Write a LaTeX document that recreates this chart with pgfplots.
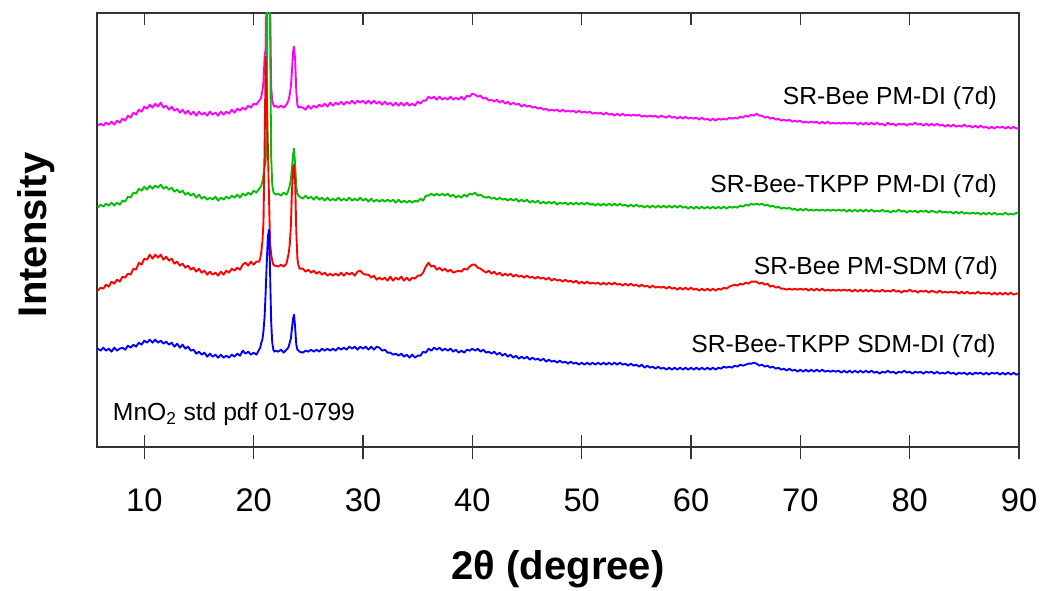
\documentclass[border=0pt]{standalone}
\usepackage{fontspec}
\setmainfont{Liberation Sans}
\usepackage{pgfplots}
\usepackage{pgfplotstable}
\pgfplotsset{compat=1.18}

\definecolor{xmag}{RGB}{255,0,255}
\definecolor{xgrn}{RGB}{0,192,0}
\definecolor{xred}{RGB}{255,0,0}
\definecolor{xblu}{RGB}{0,0,255}
\definecolor{axisgray}{RGB}{51,51,51}

% 2theta and the four offset patterns (arbitrary intensity units)
% M: SR-Bee PM-DI, G: SR-Bee-TKPP PM-DI, R: SR-Bee PM-SDM, B: SR-Bee-TKPP SDM-DI
\pgfplotstableread{
tt M G R B
5.75 321 239 156 98
6.00 323 242 159 96
6.25 321 240 158 99
6.50 324 243 162 96
6.75 322 241 160 98
7.00 325 244 165 95
7.25 322 241 163 99
7.50 326 244 167 96
7.75 324 242 165 98
8.00 328 246 170 99
8.25 326 245 169 97
8.50 331 250 173 101
8.75 329 249 172 99
9.00 334 254 178 102
9.25 332 253 177 100
9.50 337 258 184 104
9.75 335 256 182 102
10.00 340 260 188 106
10.25 338 257 187 104
10.50 342 261 192 107
10.75 339 258 188 104
11.00 343 261 192 107
11.25 340 259 189 104
11.50 344 262 192 106
11.75 339 258 187 103
12.00 341 260 190 105
12.25 337 257 186 102
12.50 340 259 188 104
12.75 336 255 183 100
13.00 338 257 185 103
13.25 334 254 181 99
13.50 337 256 183 102
13.75 333 252 179 98
14.00 336 254 181 100
14.25 332 251 177 96
14.50 335 253 179 97
14.75 331 249 175 93
15.00 335 252 178 95
15.25 332 248 174 92
15.50 334 250 176 94
15.75 331 247 172 90
16.00 335 249 175 93
16.25 332 247 172 90
16.50 334 250 174 92
16.75 331 246 171 89
17.00 335 249 175 92
17.25 332 247 172 89
17.50 335 250 176 91
17.75 333 248 174 89
18.00 337 251 178 92
18.25 334 249 176 90
18.50 338 252 179 93
18.75 336 249 177 91
19.00 339 253 182 96
19.25 337 251 184 93
19.50 341 254 181 95
19.75 339 252 185 92
20.00 343 256 182 94
20.25 342 254 185 92
20.50 346 258 185 97
20.60 347 259 188 99
20.70 350 261 195 104
20.80 356 265 205 107
20.90 365 272 225 116
21.00 390 280 300 130
21.10 398 285 390 155
21.20 470 320 350 185
21.30 600 650 300 210
21.40 600 700 250 217
21.50 450 420 205 175
21.60 360 290 192 125
21.70 346 262 186 104
21.80 342 255 182 97
21.90 340 253 181 95
22.00 341 252 181 96
22.25 339 253 180 95
22.50 341 251 182 97
22.75 339 254 180 94
23.00 342 252 183 97
23.10 344 254 188 98
23.20 347 257 193 100
23.30 352 261 202 104
23.40 360 267 220 108
23.50 375 278 255 118
23.60 395 292 278 128
23.70 400 298 282 132
23.80 385 280 262 118
23.90 355 260 215 102
24.00 342 253 188 97
24.10 339 251 181 96
24.20 340 250 178 95
24.50 339 248 178 94
24.75 337 251 175 96
25.00 341 248 177 95
25.25 338 250 174 97
25.50 341 247 176 95
25.75 339 250 173 97
26.00 342 247 175 95
26.25 340 249 172 98
26.50 343 246 174 96
26.75 340 249 171 98
27.00 344 246 173 96
27.25 341 248 171 98
27.50 344 246 173 96
27.75 342 249 171 99
28.00 345 246 174 97
28.25 342 248 171 99
28.50 345 246 174 97
28.75 343 249 172 100
29.00 346 246 174 98
29.25 343 248 171 100
29.50 346 246 175 97
29.75 344 249 176 100
30.00 346 246 173 98
30.25 343 248 172 100
30.50 346 245 172 97
30.75 343 248 169 100
31.00 346 245 171 97
31.25 343 247 167 100
31.50 345 245 169 99
31.75 342 247 167 96
32.00 345 245 169 97
32.25 342 247 166 94
32.50 344 245 170 94
32.75 341 247 166 92
33.00 344 244 169 93
33.25 341 247 167 91
33.50 344 244 170 93
33.75 341 246 166 90
34.00 344 244 169 92
34.25 341 246 166 89
34.50 343 244 169 92
34.75 341 246 168 89
35.00 345 245 171 91
35.25 343 248 171 91
35.50 346 246 174 95
35.75 346 251 180 94
36.00 350 251 184 98
36.25 348 253 180 96
36.50 350 251 181 99
36.75 347 253 177 97
37.00 350 251 179 99
37.25 347 253 176 96
37.50 349 251 178 98
37.75 347 253 175 96
38.00 350 250 177 98
38.25 347 252 174 95
38.50 349 249 175 97
38.75 347 251 176 94
39.00 350 249 175 96
39.25 347 252 178 94
39.50 351 250 177 97
39.75 350 253 180 96
40.00 353 252 182 98
40.25 352 254 182 96
40.50 350 251 179 98
40.75 351 252 178 95
41.00 348 250 176 97
41.25 349 249 174 94
41.50 346 250 176 95
41.75 347 248 173 93
42.00 345 249 175 95
42.25 347 247 172 92
42.50 344 249 174 94
42.75 346 247 171 91
43.00 343 248 173 93
43.25 345 246 171 90
43.50 342 248 173 92
43.75 344 246 170 89
44.00 342 248 172 91
44.25 343 245 170 88
44.50 340 247 171 90
44.75 342 245 169 88
45.00 340 247 171 90
45.25 341 244 169 87
45.50 339 246 170 89
45.75 340 244 168 87
46.00 338 246 170 88
46.25 339 243 168 86
46.50 337 245 169 88
46.75 338 243 167 85
47.00 336 245 169 87
47.25 337 243 166 85
47.50 336 245 168 86
47.75 337 242 166 84
48.00 335 244 167 86
48.25 337 243 165 84
48.50 335 244 167 85
48.75 336 242 165 83
49.00 335 244 166 85
49.25 336 242 164 83
49.50 334 244 166 84
49.75 336 242 163 82
50.00 334 244 165 84
50.25 335 242 163 82
50.50 334 244 165 84
50.75 335 242 163 82
51.00 333 243 164 84
51.25 334 241 163 82
51.50 333 243 164 84
51.75 334 241 162 82
52.00 332 243 164 84
52.25 334 241 162 82
52.50 332 243 164 84
52.75 333 241 162 82
53.00 331 243 164 84
53.25 333 241 162 82
53.50 331 243 163 84
53.75 333 241 161 82
54.00 331 242 163 83
54.25 332 240 161 81
54.50 331 242 163 83
54.75 332 240 161 81
55.00 331 242 162 82
55.25 332 240 160 80
55.50 330 241 162 82
55.75 331 239 160 79
56.00 330 241 161 81
56.25 331 239 159 79
56.50 330 241 161 80
56.75 331 239 159 78
57.00 329 241 160 80
57.25 331 239 159 78
57.50 330 241 160 79
57.75 329 239 158 77
58.00 331 241 160 79
58.25 329 239 158 77
58.50 330 241 159 79
58.75 328 239 157 77
59.00 330 241 159 79
59.25 328 239 157 77
59.50 330 240 159 79
59.75 328 238 157 77
60.00 329 240 159 79
60.25 328 238 157 77
60.50 329 240 158 79
60.75 327 238 156 77
61.00 329 240 158 79
61.25 327 238 156 77
61.50 328 240 158 79
61.75 326 238 156 77
62.00 328 240 158 79
62.25 326 238 156 77
62.50 328 240 158 79
62.75 327 238 157 78
63.00 328 240 159 80
63.25 327 238 158 79
63.50 329 240 160 80
63.75 328 239 161 79
64.00 329 240 162 81
64.25 328 239 161 80
64.50 330 241 163 82
64.75 329 240 162 81
65.00 331 242 164 82
65.25 330 241 163 83
65.50 332 243 165 83
65.75 331 242 165 84
66.00 333 243 165 83
66.25 331 242 163 81
66.50 331 243 164 82
66.75 329 241 162 80
67.00 330 242 163 81
67.25 328 240 160 79
67.50 329 241 161 80
67.75 327 239 159 78
68.00 328 240 160 79
68.25 326 238 158 77
68.50 327 239 158 78
68.75 326 238 157 76
69.00 327 239 158 78
69.25 325 237 157 76
69.50 326 238 158 77
69.75 325 236 157 75
70.00 326 238 158 77
70.25 324 236 157 75
70.50 325 238 158 77
70.75 324 236 156 75
71.00 325 237 158 77
71.25 324 236 156 75
71.50 325 237 158 77
71.75 323 236 156 75
72.00 325 237 158 77
72.25 323 236 156 75
72.50 325 237 157 76
72.75 323 236 156 75
73.00 324 237 157 76
73.25 323 236 156 75
73.50 324 237 157 76
73.75 323 236 156 74
74.00 324 237 157 76
74.25 323 235 156 74
74.50 324 237 157 76
74.75 323 235 155 74
75.00 324 237 157 76
75.25 322 235 155 74
75.50 324 237 157 76
75.75 322 235 155 74
76.00 324 237 157 76
76.25 322 235 155 74
76.50 324 237 157 76
76.75 322 235 155 74
77.00 324 236 156 75
77.25 322 235 155 73
77.50 323 237 157 75
77.75 321 235 155 74
78.00 324 236 156 76
78.25 322 234 155 74
78.50 323 236 157 75
78.75 321 235 155 73
79.00 323 237 156 75
79.25 322 235 154 74
79.50 323 236 156 76
79.75 321 234 155 74
80.00 323 236 157 75
80.25 322 235 155 73
80.50 324 236 156 75
80.75 322 234 154 74
81.00 323 236 156 75
81.25 321 235 155 73
81.50 323 236 156 75
81.75 321 234 154 74
82.00 323 236 156 75
82.25 321 235 155 73
82.50 323 234 154 75
82.75 321 236 156 73
83.00 322 234 154 74
83.25 320 235 155 73
83.50 322 234 154 75
83.75 320 235 155 73
84.00 322 233 154 74
84.25 320 235 155 72
84.50 321 233 153 74
84.75 320 235 155 73
85.00 322 233 153 74
85.25 320 234 155 72
85.50 321 233 153 74
85.75 319 234 154 72
86.00 321 233 153 74
86.25 319 234 155 73
86.50 321 232 153 74
86.75 319 234 154 72
87.00 320 232 153 74
87.25 318 234 154 72
87.50 320 232 152 74
87.75 318 234 154 73
88.00 320 232 152 74
88.25 319 233 154 72
88.50 320 232 152 74
88.75 318 234 154 72
89.00 320 232 152 74
89.25 318 233 154 72
89.50 320 232 152 74
89.75 318 234 153 72
90.00 319 233 153 73
}\xrddata

\begin{document}
\begin{tikzpicture}[x=1pt,y=1pt]
\useasboundingbox (-72.75,-108.2) rectangle (708.75,335.0);

% outward halves of the bottom ticks
\begin{axis}[
  at={(0,0)}, anchor=south west, scale only axis,
  width=691.5pt, height=325.5pt,
  xmin=5.67, xmax=90, ymin=0, ymax=434,
  hide y axis, axis x line*=bottom,
  xtick={10,20,...,90}, xticklabels={},
  tick align=outside, major tick length=9.5pt,
  every tick/.style={axisgray, line width=1.2pt},
  axis line style={axisgray, line width=1.3pt},
]
\end{axis}

\begin{axis}[
  at={(0,0)}, anchor=south west, scale only axis,
  width=691.5pt, height=325.5pt,
  xmin=5.67, xmax=90, ymin=0, ymax=434,
  ytick=\empty,
  xtick={10,20,...,90},
  tick align=inside, major tick length=9pt,
  every tick/.style={axisgray, line width=1.2pt},
  axis line style={axisgray, line width=1.3pt},
  /pgf/number format/assume math mode=true,
  xticklabel style={font=\fontsize{24.5}{24.5}\selectfont, anchor=base, yshift=-48.75pt},
  xlabel={2θ (degree)},
  xlabel style={font=\fontsize{30}{30}\selectfont\bfseries,
    at={(axis description cs:0.5,-0.3065)}, anchor=base},
  ylabel={Intensity},
  ylabel style={font=\fontsize{30}{30}\selectfont\bfseries,
    at={(axis description cs:-0.0553,0.488)}, anchor=base},
  every axis plot/.append style={line width=1.4pt, line join=round},
]
\addplot[xmag] table[x=tt, y=M] {\xrddata};
\addplot[xgrn] table[x=tt, y=G] {\xrddata};
\addplot[xred] table[x=tt, y=R] {\xrddata};
\addplot[xblu] table[x=tt, y=B] {\xrddata};

\begin{scope}[font=\fontsize{18.5}{18.5}\selectfont]
\node[anchor=base east] at (axis cs:88.4,342.4) {SR-Bee PM-DI (7d)};
\node[anchor=base east] at (axis cs:88.4,254) {SR-Bee-TKPP PM-DI (7d)};
\node[anchor=base east] at (axis cs:88.5,172.4) {SR-Bee PM-SDM (7d)};
\node[anchor=base east] at (axis cs:88.3,94) {SR-Bee-TKPP SDM-DI (7d)};
\node[anchor=base west] at (axis cs:6.7,26) {MnO\textsubscript{2} std pdf 01-0799};
\end{scope}
\end{axis}
\end{tikzpicture}
\end{document}
